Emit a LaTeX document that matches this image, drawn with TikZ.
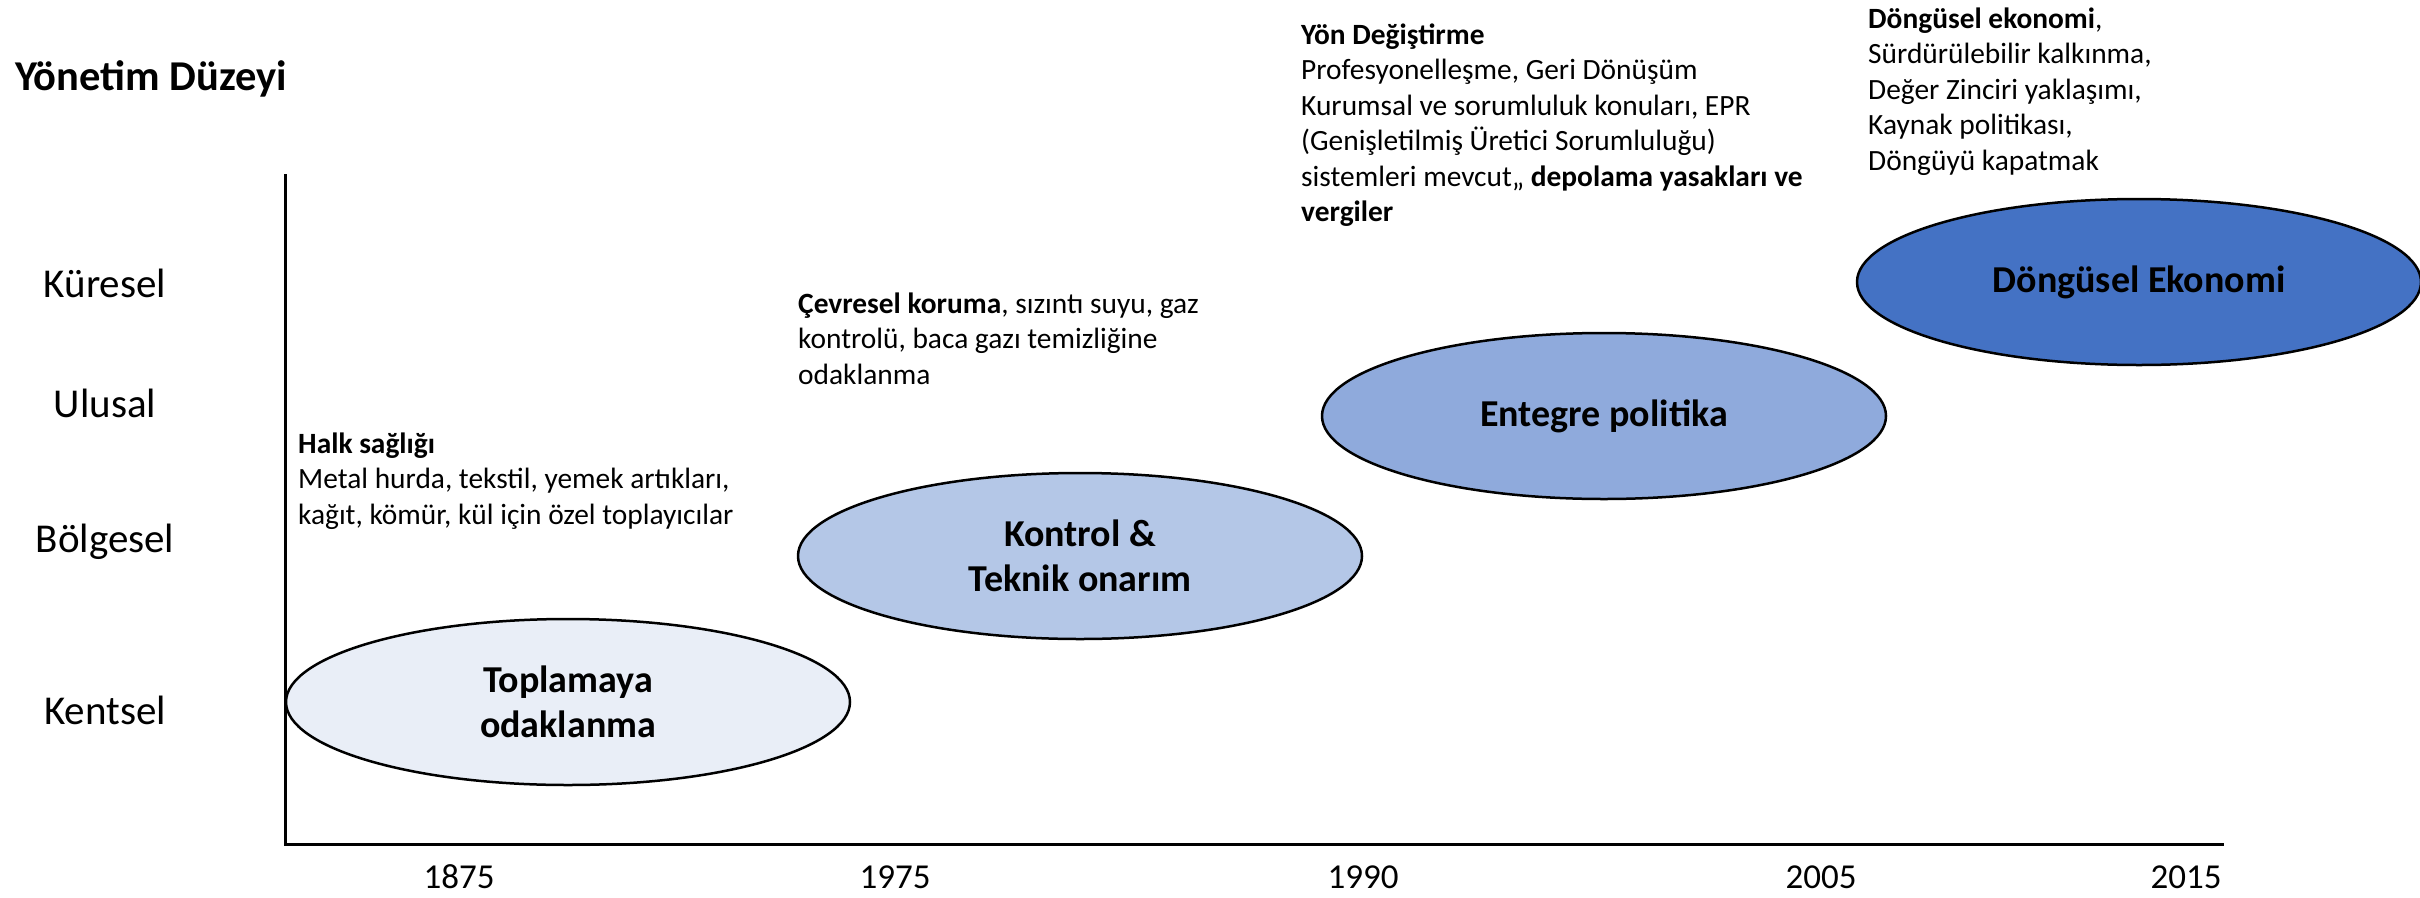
\documentclass[tikz,border=0pt]{standalone}
\usepackage{fontspec}
\setmainfont{Carlito}
\usetikzlibrary{shapes.geometric}

\definecolor{stageA}{HTML}{E9EEF7}
\definecolor{stageB}{HTML}{B4C7E7}
\definecolor{stageC}{HTML}{8FAADC}
\definecolor{stageD}{HTML}{4472C4}

\tikzset{
  stage/.style={ellipse, draw=black, line width=2.5pt, inner sep=0pt,
    minimum width=564pt, minimum height=166pt, align=center,
    font=\fontsize{38}{45}\selectfont\bfseries},
  note/.style={anchor=north west, inner sep=0pt, align=left,
    font=\fontsize{29.4}{35.5}\selectfont},
  level/.style={anchor=base, inner sep=0pt, font=\fontsize{41}{49}\selectfont},
  year/.style={anchor=base, inner sep=0pt, font=\fontsize{35}{42}\selectfont},
  axisline/.style={line width=3pt, line join=miter},
}

\begin{document}
\begin{tikzpicture}[x=1pt, y=-1pt]
  \useasboundingbox (0,0) rectangle (2420,897);

  % title of the vertical axis
  \node[anchor=base west, inner sep=0pt, font=\fontsize{42.5}{50}\selectfont\bfseries]
    (title) at (15,90) {Yönetim Düzeyi};

  % governance levels
  \node[level] (kuresel)  at (105,297) {Küresel};
  \node[level] (ulusal)   at (105,417) {Ulusal};
  \node[level] (bolgesel) at (105,552) {Bölgesel};
  \node[level] (kentsel)  at (105,724) {Kentsel};

  % axes
  \coordinate (ytop)   at (285,174);
  \coordinate (origin) at (285,844);
  \coordinate (xend)   at (2224,844);
  \draw[axisline] (ytop) -- (origin) -- (xend);

  % years
  \node[year] (y1875) at (459,888)  {1875};
  \node[year] (y1975) at (895,888)  {1975};
  \node[year] (y1990) at (1363,888) {1990};
  \node[year] (y2005) at (1821,888) {2005};
  \node[year] (y2015) at (2186,888) {2015};

  % stages
  \node[stage, fill=stageA] (collect)  at (568,702)  {Toplamaya\\odaklanma};
  \node[stage, fill=stageB] (control)  at (1080,556) {Kontrol \&\\Teknik onarım};
  \node[stage, fill=stageC] (integral) at (1604,416) {Entegre politika};
  \node[stage, fill=stageD] (circular) at (2139,282) {Döngüsel Ekonomi};

  % descriptions
  \node[note] (notehealth) at (298,428) {\strut\textbf{Halk sağlığı}\\
    Metal hurda, tekstil, yemek artıkları,\\
    kağıt, kömür, kül için özel toplayıcılar};
  \node[note] (noteenv) at (798,288) {\strut\textbf{Çevresel koruma}, sızıntı suyu, gaz\\
    kontrolü, baca gazı temizliğine\\
    odaklanma};
  \node[note] (notechange) at (1301,19) {\strut\textbf{Yön Değiştirme}\\
    Profesyonelleşme, Geri Dönüşüm\\
    Kurumsal ve sorumluluk konuları, EPR\\
    (Genişletilmiş Üretici Sorumluluğu)\\
    sistemleri mevcut,, \textbf{depolama yasakları ve}\\
    \textbf{vergiler}};
  \node[note] (notecircular) at (1868,3) {\strut\textbf{Döngüsel ekonomi},\\
    Sürdürülebilir kalkınma,\\
    Değer Zinciri yaklaşımı,\\
    Kaynak politikası,\\
    Döngüyü kapatmak};
\end{tikzpicture}
\end{document}
